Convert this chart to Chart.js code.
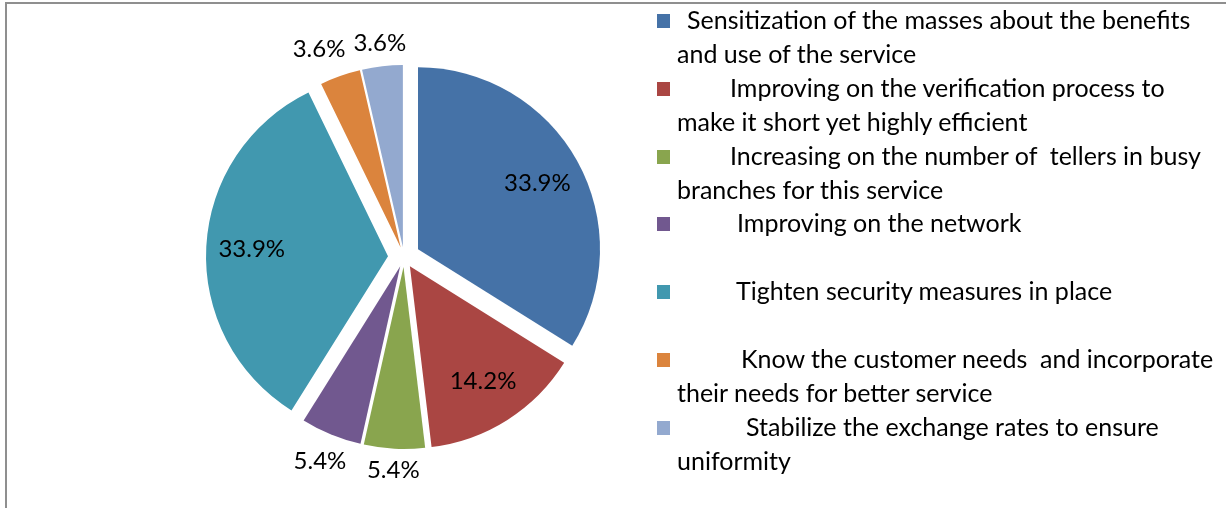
<!DOCTYPE html>
<html>
<head>
<meta charset="utf-8">
<script src="https://cdn.jsdelivr.net/npm/chart.js@4.4.0/dist/chart.umd.min.js"></script>
<style>
  html, body { margin: 0; padding: 0; background: #fff; }
  #wrap { position: relative; width: 1226px; height: 508px; overflow: hidden; font-family: Lato, "Liberation Sans", sans-serif; }
  #frame { position: absolute; left: 5px; top: 2px; width: 1400px; height: 700px; border-left: 2px solid #8f8f8f; border-top: 2px solid #8f8f8f; }
  #pie { position: absolute; left: 0; top: 0; }
  #legend { position: absolute; left: 657px; top: 3px; width: 569px; }
  .item { position: relative; height: 67.8px; font-size: 25px; line-height: 33.9px; color: #000; }
  .box { position: absolute; left: 0; top: 11px; width: 13px; height: 14px; }
  .text { position: absolute; left: 20px; top: 0; white-space: pre; }
</style>
</head>
<body>
<div id="wrap">
  <div id="frame"></div>
  <canvas id="pie" width="1226" height="508"></canvas>
  <div id="legend"></div>
</div>
<script>
// suggestions for improving the service, share of respondents (%)
const labels = [
  ['Sensitization of the masses about the benefits', 'and use of the service'],
  ['Improving on the verification process to', 'make it short yet highly efficient'],
  ['Increasing on the number of  tellers in busy', 'branches for this service'],
  ['Improving on the network'],
  ['Tighten security measures in place'],
  ['Know the customer needs  and incorporate', 'their needs for better service'],
  ['Stabilize the exchange rates to ensure', 'uniformity']
];
const shares = [33.9, 14.2, 5.4, 5.4, 33.9, 3.6, 3.6];

const colors = ['#4572A7', '#AA4643', '#89A54E', '#71588F', '#4198AF', '#DB843D', '#93A9CF'];
const explode = [16, 11, 10, 10, 16, 10, 10];   // px each slice is pulled out
const indent = [10, 53, 53, 60, 59, 64, 69];    // first line indent in the legend
const labelFont = '24px Lato, "Liberation Sans", sans-serif';

// draws the slices pulled out from the centre, then the percentages
const slicePlugin = {
  id: 'slicePlugin',
  beforeDatasetDraw(chart, args) {
    const ctx = chart.ctx;
    args.meta.data.forEach((arc, i) => {
      const mid = (arc.startAngle + arc.endAngle) / 2;
      ctx.save();
      ctx.translate(Math.cos(mid) * explode[i], Math.sin(mid) * explode[i]);
      arc.draw(ctx);
      ctx.restore();
    });
    return false;
  },
  afterDatasetsDraw(chart) {
    const ctx = chart.ctx;
    const meta = chart.getDatasetMeta(0);
    ctx.save();
    ctx.font = labelFont;
    ctx.fillStyle = '#000';
    ctx.textAlign = 'center';
    ctx.textBaseline = 'middle';
    const placed = [];
    meta.data.forEach((arc, i) => {
      const v = chart.data.datasets[0].data[i];
      const txt = v.toFixed(1) + '%';
      const w = ctx.measureText(txt).width;
      const mid = (arc.startAngle + arc.endAngle) / 2;
      const cx = arc.x + Math.cos(mid) * explode[i];
      const cy = arc.y + Math.sin(mid) * explode[i];
      const r = arc.outerRadius;
      const inside = v > 10;
      const d = inside ? r * 0.75
        : r + 10 + Math.abs(Math.cos(mid)) * w / 2 + Math.abs(Math.sin(mid)) * 10;
      placed.push({ txt, w, inside, x: cx + Math.cos(mid) * d, y: cy + Math.sin(mid) * d });
    });
    // two outside labels side by side: move the left one further left
    for (let i = placed.length - 2; i >= 0; i--) {
      const a = placed[i], b = placed[i + 1];
      if (a.inside || b.inside || Math.abs(a.y - b.y) > 22) continue;
      const left = a.x < b.x ? a : b, right = left === a ? b : a;
      const overlap = (left.x + left.w / 2 + 8) - (right.x - right.w / 2);
      if (overlap > 0) left.x -= overlap;
    }
    placed.forEach(p => ctx.fillText(p.txt, p.x, p.y));
    ctx.restore();
  }
};

const chart = new Chart(document.getElementById('pie'), {
  type: 'pie',
  data: {
    labels: labels,
    datasets: [{
      data: shares,
      backgroundColor: colors,
      borderColor: '#fff',
      borderWidth: 0
    }]
  },
  options: {
    responsive: false,
    animation: false,
    events: [],
    radius: 182,
    layout: { padding: { left: 0, right: 418, top: 6, bottom: 0 } },
    plugins: {
      legend: { display: false },
      tooltip: { enabled: false }
    }
  },
  plugins: [slicePlugin]
});

// legend on the right, built from the chart's own legend items
const legendDiv = document.getElementById('legend');
const items = Chart.overrides.pie.plugins.legend.labels.generateLabels(chart);
items.forEach((it) => {
  const i = it.index;
  const row = document.createElement('div');
  row.className = 'item';
  const box = document.createElement('div');
  box.className = 'box';
  box.style.background = it.fillStyle;
  const text = document.createElement('div');
  text.className = 'text';
  labels[i].forEach((line, k) => {
    const div = document.createElement('div');
    div.textContent = line;
    if (k === 0) div.style.textIndent = indent[i] + 'px';
    text.appendChild(div);
  });
  row.appendChild(box);
  row.appendChild(text);
  legendDiv.appendChild(row);
});
</script>
</body>
</html>
